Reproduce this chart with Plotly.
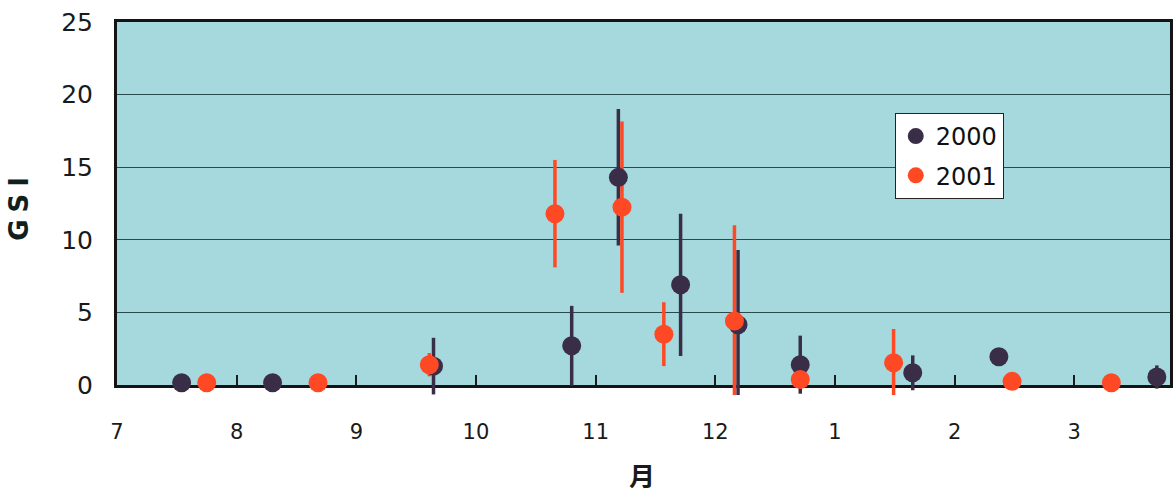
import numpy as np
import plotly.graph_objects as go

# Month ticks (axis position 0 = July ... 8 = March)
month_pos = [0, 1, 2, 3, 4, 5, 6, 7, 8]
month_labels = ["7", "8", "9", "10", "11", "12", "1", "2", "3"]

# 2000 season: sampling position (months from July), mean GSI, SD
x_2000 = [0.54, 1.30, 2.645, 3.80, 4.19, 4.71, 5.19, 5.71, 6.65, 7.37, 8.69]
gsi_2000 = [0.15, 0.15, 1.3, 2.7, 14.3, 6.9, 4.15, 1.4, 0.84, 1.95, 0.55]
sd_2000 = [0.0, 0.0, 1.95, 2.75, 4.7, 4.9, 5.15, 2.0, 1.2, 0.0, 0.8]

# 2001 season
x_2001 = [0.75, 1.68, 2.61, 3.66, 4.22, 4.57, 5.16, 5.71, 6.49, 7.48, 8.31]
gsi_2001 = [0.15, 0.15, 1.4, 11.8, 12.25, 3.5, 4.4, 0.38, 1.53, 0.25, 0.15]
sd_2001 = [0.0, 0.0, 0.8, 3.7, 5.9, 2.2, 6.6, 0.4, 2.33, 0.0, 0.0]

C2000 = "#3a2d47"
C2001 = "#ff4824"
BG = "#a5d9dd"

X_RANGE = [0, 8.8]
Y_MAX = 25
# the framed chart area sits a little above the bottom of the plotting
# region so whiskers can poke just below the zero line
FRAME_BOTTOM = 0.0268
Y_LOW = -Y_MAX * FRAME_BOTTOM / (1 - FRAME_BOTTOM)


def lower(vals, sds):
    return list(np.minimum(np.array(sds), np.array(vals) - Y_LOW))


fig = go.Figure()

# empty trace so the framed axes (x / y) get their own subplot
fig.add_trace(go.Scatter(x=[], y=[], xaxis="x", yaxis="y",
                         showlegend=False, hoverinfo="skip"))

# error bars first so every marker sits on top of them
for xs, ys, sds, col in [(x_2000, gsi_2000, sd_2000, C2000),
                         (x_2001, gsi_2001, sd_2001, C2001)]:
    fig.add_trace(go.Scatter(
        x=xs, y=ys, mode="markers", xaxis="x2", yaxis="y3",
        marker=dict(size=2, opacity=0),
        error_y=dict(type="data", symmetric=False, array=sds,
                     arrayminus=lower(ys, sds),
                     color=col, thickness=3.5, width=0),
        showlegend=False, hoverinfo="skip", cliponaxis=False,
    ))

for xs, ys, col, name in [(x_2000, gsi_2000, C2000, "2000"),
                          (x_2001, gsi_2001, C2001, "2001")]:
    fig.add_trace(go.Scatter(
        x=xs, y=ys, mode="markers", name=name, legendgroup=name,
        xaxis="x2", yaxis="y3",
        marker=dict(size=19, color=col, line=dict(width=0)),
        cliponaxis=False,
    ))

fig.update_layout(
    width=1176, height=494,
    margin=dict(l=117, r=3, t=22, b=99),
    paper_bgcolor="white",
    plot_bgcolor="rgba(0,0,0,0)",
    font=dict(family="DejaVu Sans", color="#1a1a1a"),
    showlegend=True,
    legend=dict(
        x=0.7386, y=0.756, xanchor="left", yanchor="top",
        bgcolor="white", bordercolor="#222222", borderwidth=1,
        font=dict(family="DejaVu Sans", size=24, color="#111111"),
        tracegroupgap=5, itemsizing="trace", traceorder="grouped",
    ),
    xaxis=dict(
        range=X_RANGE, tickvals=month_pos, ticktext=month_labels,
        ticks="inside", ticklen=10, tickwidth=1.5, tickcolor="#1c1c1c",
        showline=True, linewidth=3, linecolor="#141414", mirror=True,
        showgrid=False, zeroline=False, anchor="y",
        tickfont=dict(size=21, color="#1a1a1a"), ticklabelstandoff=26,
    ),
    yaxis=dict(
        domain=[FRAME_BOTTOM, 1], anchor="x",
        range=[0, Y_MAX], tickvals=[0, 5, 10, 15, 20, 25],
        showgrid=True, gridcolor="#2b4a4d", gridwidth=1,
        showline=True, linewidth=3, linecolor="#141414", mirror=True,
        ticks="", zeroline=False,
        tickfont=dict(size=25, color="#1a1a1a"), ticklabelstandoff=16,
    ),
    # pale highlight running just under each grid line
    yaxis2=dict(
        overlaying="y", anchor="x", range=[0.1, Y_MAX + 0.1],
        tickvals=[5, 10, 15, 20], showgrid=True,
        gridcolor="rgba(255,255,255,0.85)", gridwidth=1,
        showticklabels=False, showline=False, zeroline=False, ticks="",
    ),
    # data layer: same scale, reaching slightly below the zero line
    xaxis2=dict(domain=[0, 1], range=X_RANGE, anchor="y3", visible=False),
    yaxis3=dict(domain=[0, 1], range=[Y_LOW, Y_MAX], anchor="x2",
                visible=False),
    shapes=[
        dict(type="rect", xref="x domain", yref="y domain",
             x0=0, x1=1, y0=0, y1=1, fillcolor=BG,
             line=dict(width=0), layer="below"),
    ],
    annotations=[
        dict(text='<span style="letter-spacing:7px"><b>GSI</b></span>',
             xref="paper", yref="paper",
             x=-0.0933, y=0.5094, xanchor="center", yanchor="middle",
             textangle=-90, showarrow=False,
             font=dict(family="DejaVu Sans", size=26, color="#10201f")),
        dict(text="<b>月</b>", xref="paper", yref="paper",
             x=0.4985, y=-0.2118, xanchor="center", yanchor="middle",
             showarrow=False,
             font=dict(family="Noto Sans CJK JP", size=26, color="#1a1a1a")),
    ],
)

fig.write_html("out.html")
